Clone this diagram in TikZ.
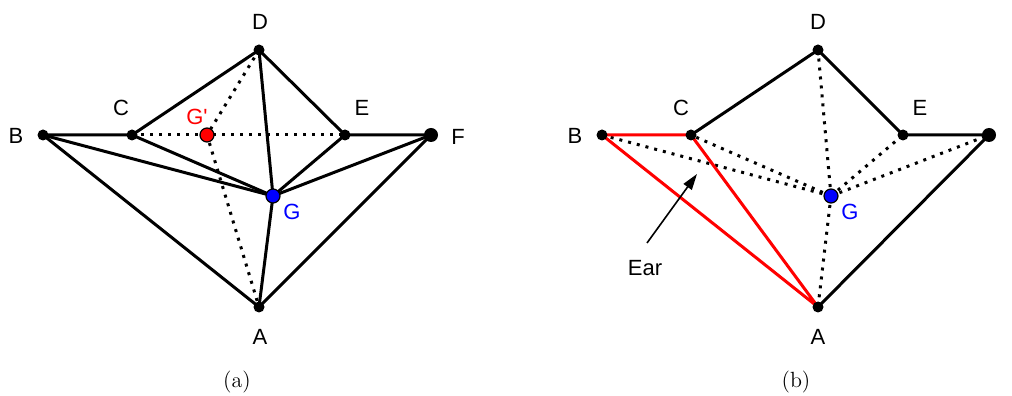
\documentclass[tikz,border=0pt]{standalone}
\usepackage{fontspec}
\newfontfamily\lblfont{Liberation Sans}
\usetikzlibrary{arrows.meta}
\tikzset{
  edge/.style={black, line width=1.5pt},
  dotedge/.style={black, line width=1.5pt, dash pattern=on 1.5pt off 3pt},
  earedge/.style={red, line width=1.5pt},
  vlabel/.style={font=\lblfont\fontsize{11}{13}\selectfont, inner sep=0pt},
  caplabel/.style={font=\fontsize{11}{13}\selectfont, inner sep=0pt},
}

\begin{document}
\begin{tikzpicture}[x=0.5pt,y=0.5pt]
\useasboundingbox (0,0) rectangle (1012,396);
% panel (a)
\coordinate (aA) at (259,89);
\coordinate (aB) at (43,261);
\coordinate (aC) at (132,261);
\coordinate (aH) at (207,261);
\coordinate (aE) at (345,261);
\coordinate (aF) at (431,261);
\coordinate (aD) at (259,346);
\coordinate (aG) at (273,200);
\draw[dotedge] (aC) -- (aE);
\draw[dotedge] (aD) -- (aH) -- (aA);
\draw[edge, line join=round] (aB) -- (aC) -- (aD) -- (aE) -- (aF) -- (aA) -- cycle;
\draw[edge] (aG) -- (aB);
\draw[edge] (aG) -- (aC);
\draw[edge] (aG) -- (aD);
\draw[edge] (aG) -- (aE);
\draw[edge] (aG) -- (aF);
\draw[edge] (aG) -- (aA);
\fill[black] (aA) circle (5.5);
\fill[black] (aB) circle (5.5);
\fill[black] (aC) circle (5.5);
\fill[black] (aD) circle (5.5);
\fill[black] (aE) circle (5.5);
\fill[black] (aF) circle (7);
\filldraw[fill=red, draw=black, line width=0.6pt] (aH) circle (7);
\filldraw[fill=blue, draw=black, line width=0.6pt] (aG) circle (7);
\node[vlabel] (aDl) at (260,374) {D};
\node[vlabel] (aCl) at (121,288) {C};
\node[vlabel] (aEl) at (362,288) {E};
\node[vlabel] (aBl) at (16,260) {B};
\node[vlabel] (aFl) at (458,259) {F};
\node[vlabel, red] (aHl) at (197,279) {G'};
\node[vlabel, blue] (aGl) at (292,184) {G};
\node[vlabel] (aAl) at (260,59) {A};
\node[caplabel] (acap) at (237,14) {(a)};
% panel (b)
\coordinate (bA) at (818,89);
\coordinate (bB) at (602,261);
\coordinate (bC) at (691,261);
\coordinate (bE) at (903,261);
\coordinate (bF) at (989,261);
\coordinate (bD) at (818,346);
\coordinate (bG) at (831,200);
\draw[dotedge] (bG) -- (bB);
\draw[dotedge] (bG) -- (bC);
\draw[dotedge] (bG) -- (bD);
\draw[dotedge] (bG) -- (bE);
\draw[dotedge] (bG) -- (bF);
\draw[dotedge] (bG) -- (bA);
\draw[edge, line join=round] (bC) -- (bD) -- (bE) -- (bF) -- (bA);
\draw[earedge, line join=round] (bB) -- (bC) -- (bA) -- cycle;
\fill[black] (bA) circle (5.5);
\fill[black] (bB) circle (5.5);
\fill[black] (bC) circle (5.5);
\fill[black] (bD) circle (5.5);
\fill[black] (bE) circle (5.5);
\fill[black] (bF) circle (7);
\filldraw[fill=blue, draw=black, line width=0.6pt] (bG) circle (7);
\node[vlabel] (bDl) at (818,374) {D};
\node[vlabel] (bCl) at (681,288) {C};
\node[vlabel] (bEl) at (920,288) {E};
\node[vlabel] (bBl) at (575,260) {B};
\node[vlabel] (bFl) at (1017,259) {F};
\node[vlabel, blue] (bGl) at (850,184) {G};
\node[vlabel] (bAl) at (818,59) {A};
\node[vlabel] (ear) at (645,128) {Ear};
\coordinate (eartip) at (697,222);
\draw[line width=0.8pt, -{Triangle[length=8pt,width=5pt]}] (647,153) -- (eartip);
\node[caplabel] (bcap) at (796,14) {(b)};
\end{tikzpicture}
\end{document}
